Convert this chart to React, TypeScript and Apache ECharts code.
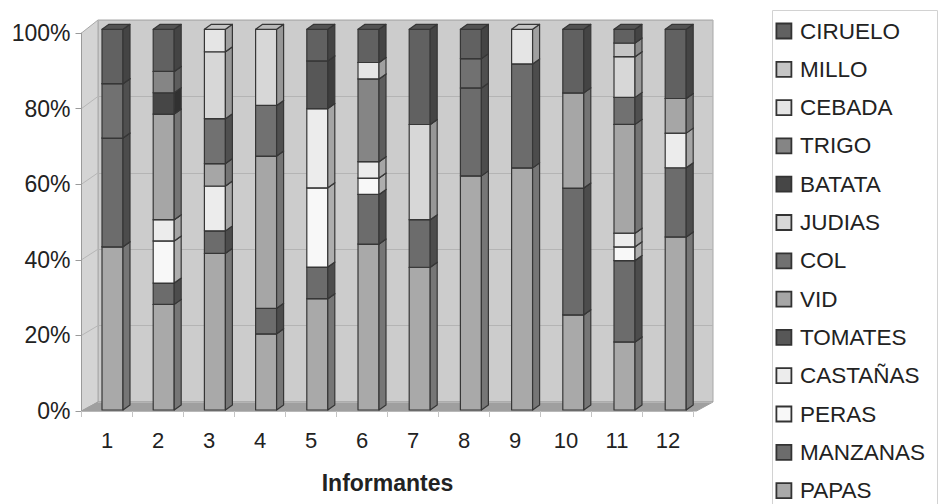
import React, { useEffect, useRef } from 'react';
import * as echarts from 'echarts';

const informantes = ['1', '2', '3', '4', '5', '6', '7', '8', '9', '10', '11', '12'];

// Stack order, bottom to top
const seriesNames = ['PAPAS', 'MANZANAS', 'PERAS', 'CASTAÑAS', 'TOMATES', 'VID', 'COL', 'JUDIAS', 'BATATA', 'TRIGO', 'CEBADA', 'MILLO', 'CIRUELO'];

const papas = [42.9, 27.8, 41.2, 20.0, 29.2, 43.5, 37.5, 61.5, 63.6, 25.0, 17.9, 45.5];
const manzanas = [28.6, 5.6, 5.9, 6.7, 8.3, 13.0, 12.5, 23.1, 27.3, 33.3, 21.4, 18.2];
const peras = [0, 11.1, 0, 0, 20.8, 4.3, 0, 0, 0, 0, 3.6, 0];
const castanas = [0, 5.6, 11.8, 0, 20.8, 4.3, 0, 0, 0, 0, 3.6, 9.1];
const tomates = [0, 0, 0, 0, 12.5, 0, 0, 0, 0, 0, 0, 0];
const vid = [0, 27.8, 5.9, 40.0, 0, 0, 0, 0, 0, 25.0, 28.6, 9.1];
const col = [14.3, 0, 11.8, 13.3, 0, 0, 0, 7.7, 0, 0, 7.1, 0];
const judias = [0, 0, 17.6, 20.0, 0, 0, 25.0, 0, 0, 0, 10.7, 0];
const batata = [0, 5.6, 0, 0, 0, 0, 0, 0, 0, 0, 0, 0];
const trigo = [0, 5.6, 0, 0, 0, 21.7, 0, 0, 0, 0, 0, 0];
const cebada = [0, 0, 5.9, 0, 0, 4.3, 0, 0, 9.1, 0, 0, 0];
const millo = [0, 0, 0, 0, 0, 0, 0, 0, 0, 0, 3.6, 0];
const ciruelo = [14.3, 11.1, 0, 0, 8.3, 8.7, 25.0, 7.7, 0, 16.7, 3.6, 18.2];

const seriesValues = [papas, manzanas, peras, castanas, tomates, vid, col, judias, batata, trigo, cebada, millo, ciruelo];

const seriesColors = ['#a9a9a9', '#6c6c6c', '#f8f8f8', '#ececec', '#575757', '#a6a6a6', '#717171', '#d7d7d7', '#464646', '#858585', '#e5e5e5', '#c5c5c5', '#616161'];

const yTickValues = [0, 20, 40, 60, 80, 100];

const FONT = "'Liberation Sans', Arial, sans-serif";
const TEXT = '#222222';

function shade(hex: string, f: number) {
  const n = parseInt(hex.slice(1), 16);
  const r = Math.round(((n >> 16) & 255) * f);
  const g = Math.round(((n >> 8) & 255) * f);
  const b = Math.round((n & 255) * f);
  return `rgb(${r},${g},${b})`;
}

// 3D layout
const FRONT = { left: 81.5, top: 33, width: 612, height: 378 };
const BACK = { left: 98, top: 20, width: 615, height: 382 };
const BARS = { left: 86.9, top: 29.3, width: 614.4, height: 380.7 };
const DEPTH_X = 7;
const DEPTH_Y = 5;
const BAR_FRAC = 0.41;

export default function App() {
  const ref = useRef<HTMLDivElement>(null);

  useEffect(() => {
    if (!ref.current) return;
    const chart = echarts.init(ref.current, undefined, { renderer: 'svg' });

    const totals = informantes.map((_, i) => seriesValues.reduce((s, arr) => s + arr[i], 0));
    const cum = informantes.map(() => 0);

    const series: any[] = seriesNames.map((name, si) => {
      const data: any[] = [];
      informantes.forEach((_, i) => {
        const v = (seriesValues[si][i] / totals[i]) * 100;
        const start = cum[i];
        const end = start + v;
        cum[i] = end;
        if (seriesValues[si][i] > 0) data.push([i, start, end]);
      });
      const color = seriesColors[si];
      return {
        name,
        type: 'custom',
        xAxisIndex: 1,
        yAxisIndex: 1,
        itemStyle: { color },
        data,
        z: 3,
        renderItem: (params: any, api: any) => {
          const cat = api.value(0);
          const p0 = api.coord([cat, api.value(1)]);
          const p1 = api.coord([cat, api.value(2)]);
          const bw = api.size([1, 0])[0] * BAR_FRAC;
          const x1 = p0[0] - bw / 2;
          const x2 = p0[0] + bw / 2;
          const yb = p0[1];
          const yt = p1[1];
          const stroke = { stroke: '#363636', lineWidth: 1.2, lineJoin: 'round' };
          return {
            type: 'group',
            children: [
              {
                type: 'rect',
                z2: si,
                shape: { x: x1, y: yt, width: x2 - x1, height: yb - yt },
                style: { fill: color, ...stroke },
              },
              {
                type: 'polygon',
                z2: si,
                shape: { points: [[x2, yb], [x2, yt], [x2 + DEPTH_X, yt - DEPTH_Y], [x2 + DEPTH_X, yb - DEPTH_Y]] },
                style: { fill: shade(color, 0.7), ...stroke },
              },
              {
                type: 'polygon',
                z2: si,
                shape: { points: [[x1, yt], [x1 + DEPTH_X, yt - DEPTH_Y], [x2 + DEPTH_X, yt - DEPTH_Y], [x2, yt]] },
                style: { fill: shade(color, 0.86), ...stroke },
              },
            ],
          };
        },
      };
    });

    const fy = (v: number) => FRONT.top + FRONT.height * (1 - v / 100);
    const by = (v: number) => BACK.top + BACK.height * (1 - v / 100);
    const backRight = BACK.left + BACK.width;

    const graphic: any[] = [
      {
        type: 'polygon',
        z: 0,
        shape: { points: [[FRONT.left, fy(0)], [FRONT.left, fy(100)], [BACK.left, by(100)], [BACK.left, by(0)]] },
        style: { fill: '#d4d4d4', stroke: '#a8a8a8', lineWidth: 1 },
      },
      {
        type: 'polygon',
        z: 0,
        shape: { points: [[FRONT.left, fy(0)], [backRight - (BACK.left - FRONT.left), fy(0)], [backRight, by(0)], [BACK.left, by(0)]] },
        style: { fill: '#9f9f9f', stroke: '#9f9f9f', lineWidth: 1 },
      },
      ...yTickValues.filter((v) => v > 0 && v < 100).map((v) => ({
        type: 'line',
        z: 0,
        shape: { x1: FRONT.left, y1: fy(v), x2: BACK.left, y2: by(v) },
        style: { stroke: '#b6b6b6', lineWidth: 1 },
      })),
      {
        type: 'rect',
        z: 0,
        shape: { x: 772.5, y: 10.5, width: 165, height: 520 },
        style: { fill: 'none', stroke: '#d2d2d2', lineWidth: 1 },
      },
    ];

    const option: any = {
      animation: false,
      backgroundColor: '#ffffff',
      textStyle: { fontFamily: FONT },
      grid: [
        { ...FRONT, containLabel: false },
        { ...BARS, containLabel: false },
        { ...BACK, containLabel: false, show: true, backgroundColor: '#cccccc', borderColor: '#a8a8a8', borderWidth: 1, z: 0 },
      ],
      xAxis: [
        {
          gridIndex: 0,
          type: 'category',
          data: informantes,
          z: 5,
          axisLine: { show: true, lineStyle: { color: '#b8b8b8', width: 1 } },
          axisTick: { show: true, length: 6, lineStyle: { color: '#c4c4c4' } },
          axisLabel: { color: TEXT, fontSize: 22, fontFamily: FONT, margin: 18 },
          name: 'Informantes',
          nameLocation: 'middle',
          nameGap: 60,
          nameTextStyle: { color: TEXT, fontSize: 23, fontWeight: 'bold', fontFamily: FONT },
          splitLine: { show: false },
        },
        { gridIndex: 1, type: 'category', data: informantes, show: false },
        { gridIndex: 2, type: 'category', data: informantes, show: false },
      ],
      yAxis: [
        {
          gridIndex: 0,
          type: 'value',
          min: 0,
          max: 100,
          interval: 20,
          z: 5,
          axisLine: { show: true, lineStyle: { color: '#9a9a9a', width: 1 } },
          axisTick: { show: true, length: 6, lineStyle: { color: '#9a9a9a' } },
          axisLabel: { color: TEXT, fontSize: 23, fontFamily: FONT, margin: 11, formatter: '{value}%' },
          splitLine: { show: false },
        },
        { gridIndex: 1, type: 'value', min: 0, max: 100, show: false },
        {
          gridIndex: 2,
          type: 'value',
          min: 0,
          max: 100,
          interval: 20,
          axisLine: { show: false },
          axisTick: { show: false },
          axisLabel: { show: false },
          splitLine: { show: true, lineStyle: { color: '#b4b4b4', width: 1 } },
        },
      ],
      legend: {
        type: 'plain',
        orient: 'vertical',
        left: 775.5,
        top: 19.5,
        width: 165,
        height: 600,
        padding: 0,
        itemGap: 15.3,
        itemWidth: 22,
        itemHeight: 15,
        icon: 'path://M0,0H10V10H0Z',
        itemStyle: { borderColor: '#333333', borderWidth: 1.8 },
        textStyle: { color: TEXT, fontSize: 22.5, fontFamily: FONT, lineHeight: 21 },
        data: [...seriesNames].reverse(),
      },
      graphic,
      series,
    };

    chart.setOption(option);
    return () => chart.dispose();
  }, []);

  return <div ref={ref} style={{ position: 'absolute', left: 0, top: 0, width: 940, height: 504 }} />;
}
